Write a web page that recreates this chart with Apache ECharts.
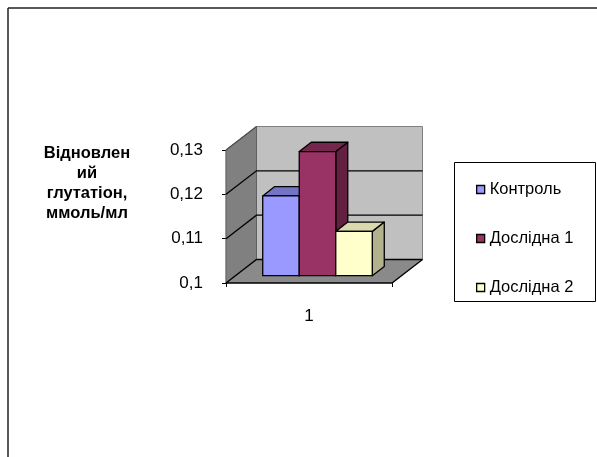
<!DOCTYPE html>
<html>
<head>
<meta charset="utf-8">
<script src="https://cdn.jsdelivr.net/npm/echarts@6/dist/echarts.min.js"></script>
<style>
  html, body { margin: 0; padding: 0; background: #fff; }
  #chart { width: 597px; height: 457px; }
</style>
</head>
<body>
<div id="chart"></div>
<script>
// Reduced glutathione by group
const categories = ['1'];
const seriesNames = ['Контроль', 'Дослідна 1', 'Дослідна 2'];
const seriesValues = [0.118, 0.128, 0.110];
const yMin = 0.1;
const yMax = 0.13;
const yStep = 0.01;
const gridValues = [0.1, 0.11, 0.12, 0.13];
const yTitleLines = ['Відновлен', 'ий', 'глутатіон,', 'ммоль/мл'];

// Face colours of each box: front, top, side
const barColors = [
  { front: '#9999ff', top: '#7474c6', side: '#5c5ca0' },
  { front: '#993366', top: '#74264c', side: '#642040' },
  { front: '#ffffcc', top: '#d9d9ad', side: '#b2b28e' }
];

// Perspective offsets for the room and for the boxes inside it
const DX = 30.5, DY = -23.5;     // full depth of the floor / walls
const BX = 8.5, BY = -7.3;       // front face of boxes sits this far back
const BDX = 12, BDY = -9.3;      // depth of each box

const FONT = 'Liberation Sans, Arial, sans-serif';

const chart = echarts.init(document.getElementById('chart'), null, { renderer: 'canvas' });

function renderRoom(params, api) {
  const cs = params.coordSys;
  const x0 = cs.x, x1 = cs.x + cs.width;
  const yOf = v => api.coord([0, v])[1];
  const yB = yOf(yMin), yT = yOf(yMax);
  const children = [];
  // back wall
  children.push({
    type: 'polygon',
    shape: { points: [[x0 + DX, yT + DY], [x1 + DX, yT + DY], [x1 + DX, yB + DY], [x0 + DX, yB + DY]] },
    style: { fill: '#c0c0c0', stroke: '#808080', lineWidth: 1 }
  });
  // left wall
  children.push({
    type: 'polygon',
    shape: { points: [[x0, yB], [x0, yT], [x0 + DX, yT + DY], [x0 + DX, yB + DY]] },
    style: { fill: '#808080', stroke: '#606060', lineWidth: 1 }
  });
  // floor
  children.push({
    type: 'polygon',
    shape: { points: [[x0, yB], [x1, yB], [x1 + DX, yB + DY], [x0 + DX, yB + DY]] },
    style: { fill: '#8a8a8a', stroke: null }
  });
  children.push({
    type: 'polyline',
    shape: { points: [[x0, yB], [x1, yB], [x1 + DX, yB + DY]] },
    style: { stroke: '#000', lineWidth: 1.3, fill: null }
  });
  // gridlines across left and back walls
  gridValues.forEach(v => {
    const y = yOf(v);
    const top = v === yMax;
    children.push({
      type: 'polyline',
      shape: { points: top ? [[x0, y], [x0 + DX, y + DY]] : [[x0, y], [x0 + DX, y + DY], [x1 + DX, y + DY]] },
      style: { stroke: top ? '#505050' : '#000', lineWidth: 1.3, fill: null }
    });
  });
  return { type: 'group', children: children };
}

function makeBarRenderer(i) {
  return function (params, api) {
    const val = api.value(1);
    const cx = api.coord([api.value(0), val])[0];
    const band = api.size([1, 0])[0];
    const bw = band * 0.22;
    const left = cx - 1.5 * bw + i * bw + BX;
    const right = left + bw;
    const yTop = api.coord([api.value(0), val])[1] + BY;
    const yBot = api.coord([api.value(0), yMin])[1] + BY;
    const c = barColors[i];
    const stroke = { stroke: '#000', lineWidth: 1.3, lineJoin: 'round' };
    return {
      type: 'group',
      children: [
        { type: 'polygon', shape: { points: [[right, yTop], [right + BDX, yTop + BDY], [right + BDX, yBot + BDY], [right, yBot]] },
          style: Object.assign({ fill: c.side }, stroke) },
        { type: 'polygon', shape: { points: [[left, yTop], [left + BDX, yTop + BDY], [right + BDX, yTop + BDY], [right, yTop]] },
          style: Object.assign({ fill: c.top }, stroke) },
        { type: 'rect', shape: { x: left, y: yTop, width: bw, height: yBot - yTop },
          style: Object.assign({ fill: c.front }, stroke) }
      ]
    };
  };
}

const series = [{
  type: 'custom',
  name: '__room',
  silent: true,
  renderItem: renderRoom,
  data: [[0, yMin]],
  z: 1
}];
seriesNames.forEach((name, i) => {
  series.push({
    type: 'custom',
    name: name,
    color: barColors[i].front,
    itemStyle: { color: barColors[i].front },
    renderItem: makeBarRenderer(i),
    data: [[0, seriesValues[i]]],
    z: 2 + i
  });
});

const option = {
  animation: false,
  backgroundColor: '#fff',
  textStyle: { fontFamily: FONT },
  grid: { left: 226, top: 150, width: 166, height: 133 },
  xAxis: {
    type: 'category',
    data: categories,
    axisLine: { show: false },
    axisTick: { show: true, length: 4, lineStyle: { color: '#000', width: 1 } },
    axisLabel: { color: '#000', fontSize: 17, margin: 25, fontFamily: FONT },
    splitLine: { show: false }
  },
  yAxis: {
    type: 'value',
    min: yMin,
    max: yMax,
    interval: yStep,
    axisLine: { show: true, lineStyle: { color: '#000', width: 1.3 } },
    axisTick: { show: true, length: 4, lineStyle: { color: '#000', width: 1 } },
    axisLabel: {
      color: '#000', fontSize: 17, margin: 23, fontFamily: FONT,
      formatter: v => String(Math.round(v * 100) / 100).replace('.', ',')
    },
    splitLine: { show: false }
  },
  legend: {
    data: seriesNames,
    orient: 'vertical',
    left: 476,
    top: 181,
    padding: 0,
    itemGap: 32,
    icon: 'rect',
    itemWidth: 8,
    itemHeight: 8,
    itemStyle: { borderColor: '#000', borderWidth: 1.3 },
    textStyle: { color: '#000', fontSize: 16.5, fontFamily: FONT },
    selectedMode: false
  },
  graphic: [
    { type: 'line', shape: { x1: 8, y1: 8, x2: 597, y2: 8 }, style: { stroke: '#222', lineWidth: 1.5 }, silent: true },
    { type: 'line', shape: { x1: 8, y1: 8, x2: 8, y2: 457 }, style: { stroke: '#222', lineWidth: 1.5 }, silent: true },
    { type: 'rect', shape: { x: 454.5, y: 162.5, width: 141, height: 139 }, style: { fill: null, stroke: '#000', lineWidth: 1 }, silent: true, z: -1 },
    {
      type: 'text', x: 87, y: 143, silent: true,
      style: {
        text: yTitleLines.join('\n'),
        textAlign: 'center',
        textVerticalAlign: 'top',
        fontSize: 16.5, fontWeight: 'bold', lineHeight: 20,
        fontFamily: FONT,
        fill: '#000'
      }
    }
  ],
  series: series
};

chart.setOption(option);
</script>
</body>
</html>
